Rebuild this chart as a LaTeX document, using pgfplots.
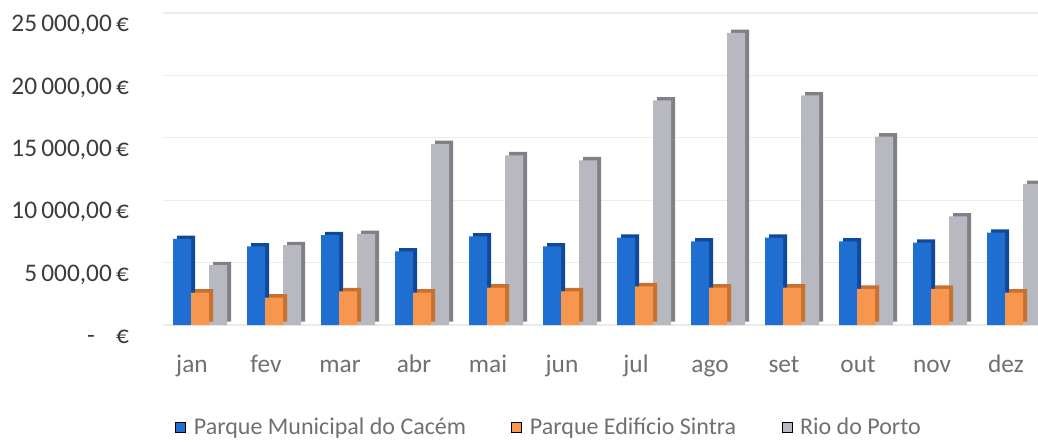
\documentclass[border=0pt]{standalone}
\usepackage{fontspec}
\setmainfont{Carlito}
\usepackage{pgfplots}
\pgfplotsset{compat=1.18}
\definecolor{cblue}{HTML}{1F6FD3}
\definecolor{cblueS}{HTML}{12489A}
\definecolor{corange}{HTML}{F7964F}
\definecolor{corangeS}{HTML}{C8702E}
\definecolor{cgray}{HTML}{B8B8C0}
\definecolor{cgrayS}{HTML}{808087}
\definecolor{ylab}{HTML}{3C3C3C}
\definecolor{xlab}{HTML}{707070}
\begin{document}
\begin{tikzpicture}
\path[use as bounding box] (0,0) rectangle (778.5pt,332.25pt);
\begin{axis}[
  anchor=south west, at={(122.25pt,88.5pt)},
  scale only axis, width=666pt, height=234pt,
  xmin=-0.5, xmax=11.5, ymin=0, ymax=25000,
  scaled y ticks=false,
  axis line style={draw=none}, tick style={draw=none},
  ymajorgrids, grid style={black!8, line width=0.8pt},
  ytick={0,5000,10000,15000,20000,25000},
  yticklabels={{-\hspace{16pt}€},{5\,000,00\,€},{10\,000,00\,€},{15\,000,00\,€},{20\,000,00\,€},{25\,000,00\,€}},
  yticklabel style={font=\fontsize{19}{19}\selectfont, text=ylab, anchor=east, xshift=-22pt, yshift=-9pt},
  xtick={0,...,11},
  xticklabels={jan,fev,mar,abr,mai,jun,jul,ago,set,out,nov,dez},
  xticklabel style={font=\fontsize{19}{19}\selectfont, text=xlab, anchor=base, yshift=-31pt, xshift=-6pt},
  ybar, bar width=13.5pt,
  legend style={at={(0.4352,-0.327)}, anchor=center, draw=none, fill=none,
    legend columns=3, font=\fontsize{18}{18}\selectfont,
    /tikz/every odd column/.append style={column sep=4pt},
    /tikz/every even column/.append style={column sep=32pt}},
  legend image code/.code={\fill[#1] (0pt,-3.75pt) rectangle (7.5pt,3.75pt);},
]
% blue
\addplot[fill=cblueS, draw=none, bar shift=-10.5pt, yshift=2.5pt, forget plot] coordinates {(0,6900) (1,6300) (2,7200) (3,5900) (4,7100) (5,6300) (6,7000) (7,6700) (8,7000) (9,6700) (10,6600) (11,7400)};
\addplot[fill=cblue, draw=none, bar shift=-13.5pt, forget plot] coordinates {(0,6900) (1,6300) (2,7200) (3,5900) (4,7100) (5,6300) (6,7000) (7,6700) (8,7000) (9,6700) (10,6600) (11,7400)};
% gray
\addplot[fill=cgrayS, draw=none, bar shift=16.5pt, yshift=2.5pt, forget plot] coordinates {(0,4800) (1,6400) (2,7300) (3,14500) (4,13600) (5,13200) (6,18000) (7,23400) (8,18400) (9,15100) (10,8700) (11,11300)};
\addplot[fill=cgray, draw=none, bar shift=13.5pt, forget plot] coordinates {(0,4800) (1,6400) (2,7300) (3,14500) (4,13600) (5,13200) (6,18000) (7,23400) (8,18400) (9,15100) (10,8700) (11,11300)};
% orange
\addplot[fill=corangeS, draw=none, bar shift=3pt, yshift=2.5pt, forget plot] coordinates {(0,2600) (1,2200) (2,2700) (3,2600) (4,3000) (5,2700) (6,3100) (7,3000) (8,3000) (9,2900) (10,2900) (11,2600)};
\addplot[fill=corange, draw=none, bar shift=0pt, forget plot] coordinates {(0,2600) (1,2200) (2,2700) (3,2600) (4,3000) (5,2700) (6,3100) (7,3000) (8,3000) (9,2900) (10,2900) (11,2600)};
\addlegendimage{fill=cblue}
\addlegendentry{\textcolor{xlab}{Parque Municipal do Cacém}}
\addlegendimage{fill=corange}
\addlegendentry{\textcolor{xlab}{Parque Edifício Sintra}}
\addlegendimage{fill=cgray}
\addlegendentry{\textcolor{xlab}{Rio do Porto}}
\end{axis}
\end{tikzpicture}
\end{document}
